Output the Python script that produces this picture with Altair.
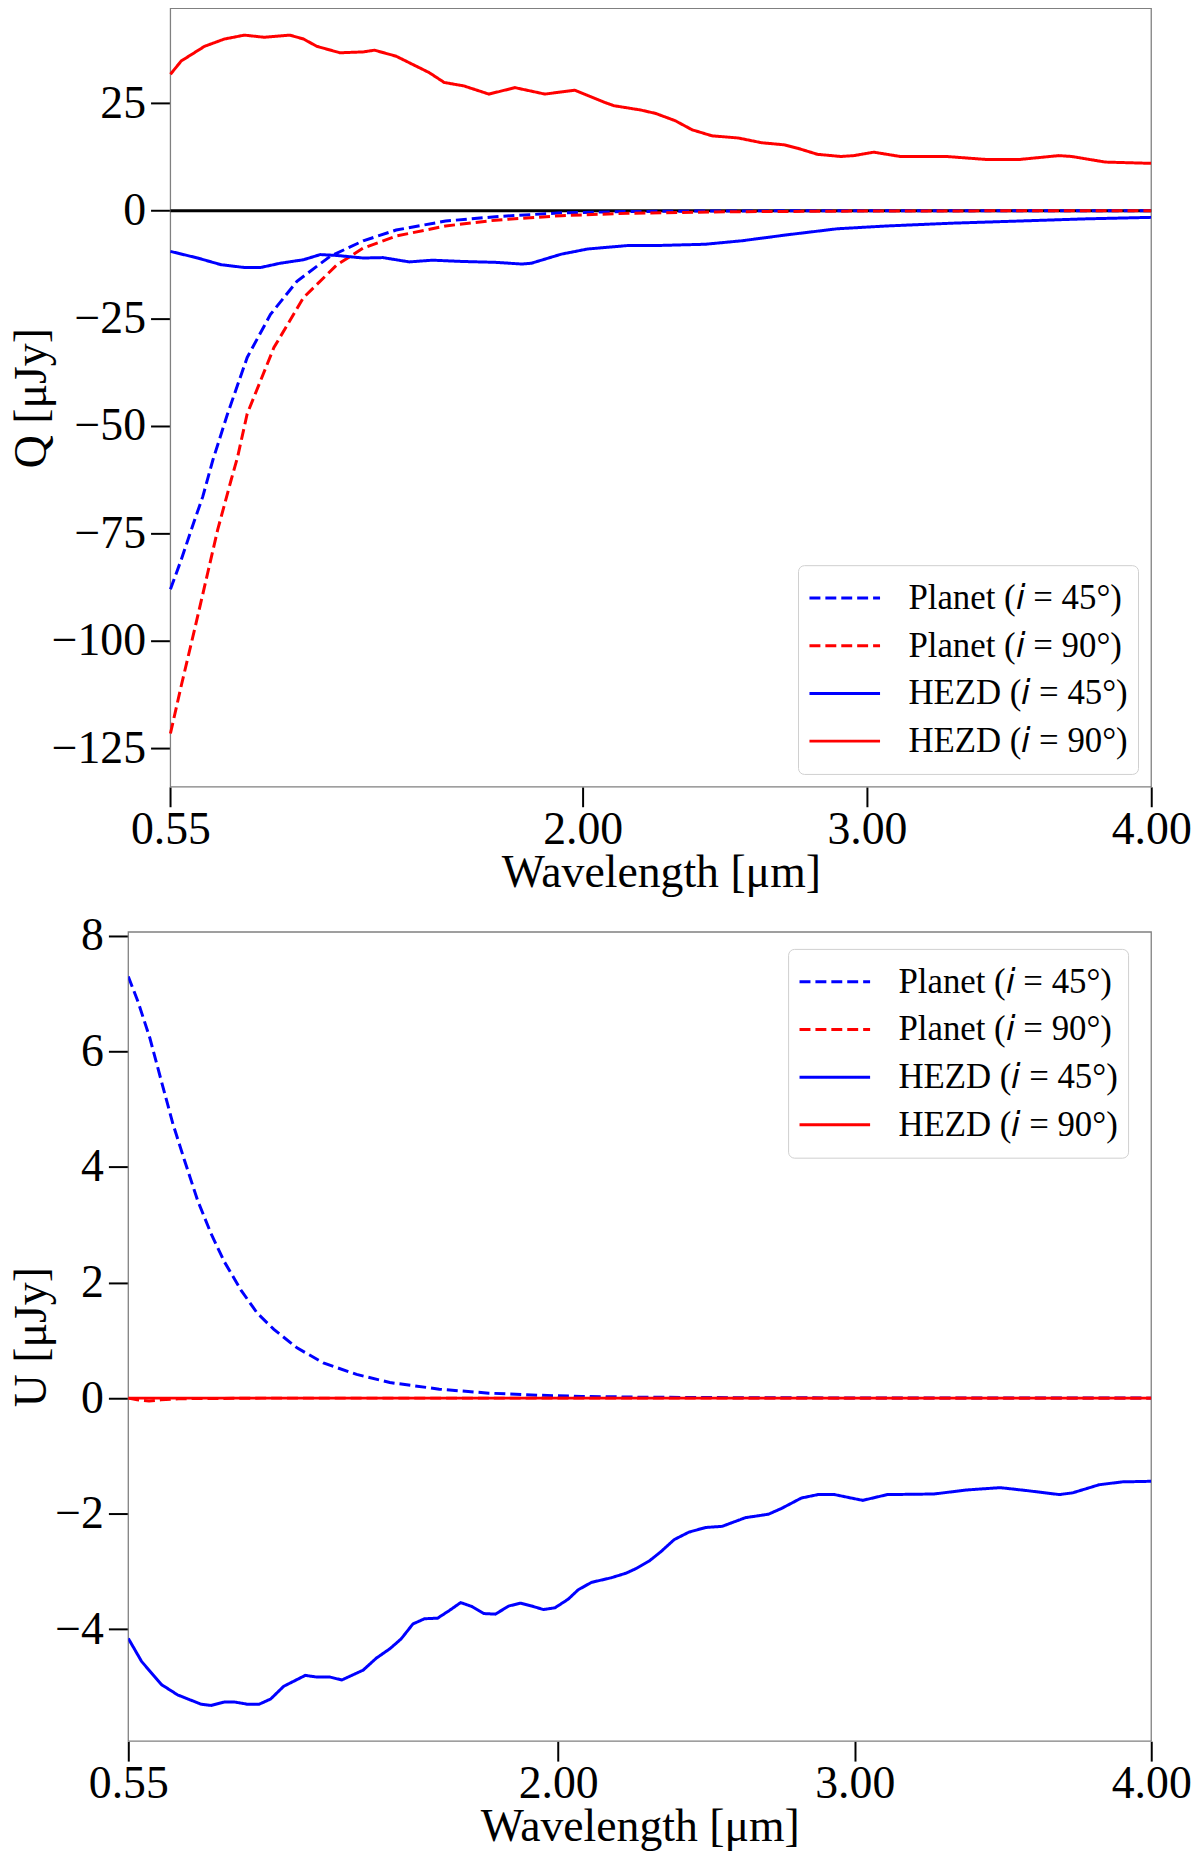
"""
Stokes Q and U of a planet and of a HEZD against wavelength, two panels.
"""

import altair as alt
import pandas as pd

# --- values ---------------------------------------------------------------

# Q panel, Planet (i = 45 deg), dashed blue
q_planet45_wl = [0.55, 0.588, 0.635, 0.664, 0.699, 0.751, 0.82, 0.902, 0.995, 1.112,
                 1.228, 1.344, 1.518, 1.693, 1.925, 2.16, 2.5, 3.0, 3.5, 4.0]
q_planet45 = [-88.0, -81.1, -71.9, -66.4, -58.0, -47.2, -34.1, -24.1, -16.4, -10.6,
              -7.0, -4.5, -2.4, -1.4, -0.5, -0.2, -0.05, -0.02, -0.01, 0.0]

# Q panel, Planet (i = 90 deg), dashed red
q_planet90_wl = [0.55, 0.588, 0.635, 0.681, 0.716, 0.763, 0.786, 0.82, 0.914, 1.018,
                 1.135, 1.228, 1.344, 1.518, 1.693, 1.925, 2.16, 2.5, 3.0, 3.5, 4.0]
q_planet90 = [-121.5, -110.4, -97.3, -84.2, -74.2, -62.7, -57.3, -47.2, -31.8, -20.2,
              -12.6, -8.7, -5.9, -3.55, -2.2, -1.15, -0.6, -0.25, -0.08, -0.03, -0.01]

# Q panel, HEZD (i = 45 deg), solid blue
q_hezd45_wl = [0.55, 0.646, 0.728, 0.81, 0.867, 0.937, 1.018, 1.077, 1.135, 1.228,
               1.297, 1.39, 1.472, 1.576, 1.693, 1.786, 1.82, 1.925, 2.018, 2.158,
               2.257, 2.431, 2.559, 2.72, 2.896, 3.07, 3.30, 3.536, 3.768, 4.0]
q_hezd45 = [-9.46, -11.0, -12.55, -13.2, -13.2, -12.2, -11.4, -10.2, -10.4, -11.0,
            -10.9, -11.9, -11.5, -11.8, -12.0, -12.4, -12.2, -10.1, -8.9, -8.1,
            -8.1, -7.8, -7.0, -5.6, -4.2, -3.55, -2.9, -2.4, -1.9, -1.55]

# Q panel, HEZD (i = 90 deg), solid red
q_hezd90_wl = [0.55, 0.588, 0.67, 0.74, 0.81, 0.88, 0.97, 1.018, 1.065, 1.146,
               1.228, 1.268, 1.344, 1.414, 1.46, 1.513, 1.582, 1.67, 1.762, 1.867,
               1.972, 2.076, 2.11, 2.204, 2.257, 2.326, 2.385, 2.455, 2.547, 2.629,
               2.71, 2.757, 2.826, 2.908, 2.954, 3.024, 3.117, 3.28, 3.42, 3.536,
               3.675, 3.72, 3.838, 4.0]
q_hezd90 = [31.7, 34.8, 38.2, 39.9, 40.8, 40.3, 40.8, 39.9, 38.2, 36.7,
            36.9, 37.3, 35.9, 33.6, 32.1, 29.8, 29.0, 27.1, 28.6, 27.1,
            28.0, 25.2, 24.4, 23.4, 22.6, 20.9, 18.8, 17.4, 16.9, 15.8,
            15.3, 14.5, 13.1, 12.6, 12.8, 13.6, 12.6, 12.6, 11.9, 11.9,
            12.8, 12.6, 11.3, 11.0]

# U panel, Planet (i = 45 deg), dashed blue
u_planet45_wl = [0.55, 0.583, 0.623, 0.662, 0.701, 0.74, 0.784, 0.829, 0.874, 0.93,
                 0.985, 1.041, 1.119, 1.208, 1.32, 1.432, 1.599, 1.766, 1.934, 2.078,
                 2.3, 2.6, 3.0, 3.5, 4.0]
u_planet45 = [7.30, 6.86, 6.23, 5.48, 4.74, 4.11, 3.42, 2.85, 2.36, 1.87,
              1.47, 1.19, 0.87, 0.61, 0.41, 0.27, 0.155, 0.086, 0.05, 0.03,
              0.015, 0.008, 0.003, 0.001, 0.0]

# U panel, Planet (i = 90 deg), dashed red (sits on zero)
u_planet90_wl = [0.55, 0.58, 0.62, 0.66, 0.72, 1.0, 2.0, 3.0, 4.0]
u_planet90 = [0.0, -0.03, -0.05, -0.03, -0.01, 0.0, 0.0, 0.0, 0.0]

# U panel, HEZD (i = 45 deg), solid blue
u_hezd45_wl = [0.55, 0.595, 0.662, 0.717, 0.796, 0.829, 0.874, 0.907, 0.952, 0.991,
               1.03, 1.074, 1.147, 1.186, 1.231, 1.27, 1.342, 1.387, 1.432, 1.47,
               1.51, 1.549, 1.593, 1.632, 1.671, 1.71, 1.749, 1.788, 1.833, 1.872,
               1.911, 1.95, 1.989, 2.034, 2.067, 2.112, 2.179, 2.229, 2.263, 2.307,
               2.346, 2.391, 2.441, 2.497, 2.553, 2.631, 2.709, 2.753, 2.82, 2.876,
               2.932, 2.988, 3.027, 3.11, 3.267, 3.378, 3.49, 3.579, 3.69, 3.735,
               3.824, 3.902, 4.0]
u_hezd45 = [-4.16, -4.56, -4.96, -5.14, -5.30, -5.32, -5.26, -5.26, -5.30, -5.30,
            -5.21, -4.99, -4.80, -4.83, -4.83, -4.88, -4.71, -4.50, -4.34, -4.17,
            -3.91, -3.82, -3.81, -3.68, -3.54, -3.61, -3.73, -3.74, -3.60, -3.55,
            -3.60, -3.66, -3.63, -3.48, -3.32, -3.19, -3.11, -3.03, -2.95, -2.82,
            -2.66, -2.45, -2.32, -2.24, -2.22, -2.07, -2.01, -1.91, -1.73, -1.67,
            -1.67, -1.73, -1.77, -1.67, -1.66, -1.59, -1.55, -1.60, -1.67, -1.64,
            -1.50, -1.45, -1.44]

# U panel, HEZD (i = 90 deg), solid red
u_hezd90_wl = [0.55, 1.0, 2.0, 3.0, 4.0]
u_hezd90 = [0.0, 0.0, 0.0, 0.0, 0.0]

wl_range = [0.55, 4.0]
q_range = [-133.9, 47.0]
u_range = [-5.94, 8.07]
x_ticks = [0.55, 2.0, 3.0, 4.0]
q_ticks = [-125, -100, -75, -50, -25, 0, 25]
u_ticks = [-4, -2, 0, 2, 4, 6, 8]

series = ["Planet (𝑖 = 45°)", "Planet (𝑖 = 90°)", "HEZD (𝑖 = 45°)", "HEZD (𝑖 = 90°)"]
colors = ["#0000ff", "#ff0000", "#0000ff", "#ff0000"]
dashes = [[11, 5], [11, 5], [1, 0], [1, 0]]

FONT = "Liberation Serif"
FRAME = "#808080"
WIDTH = 1029
# the Q panel's frame starts this far right of the U panel's (wider tick labels)
Q_INSET = 42.4


def to_frame(parts):
    """Stack (name, wavelengths, values) triples into one long table."""
    rows = []
    for name, wl, vals in parts:
        rows += [{"series": name, "wl": w, "value": v} for w, v in zip(wl, vals)]
    return pd.DataFrame(rows)


q_df = to_frame([
    (series[0], q_planet45_wl, q_planet45),
    (series[1], q_planet90_wl, q_planet90),
    (series[2], q_hezd45_wl, q_hezd45),
    (series[3], q_hezd90_wl, q_hezd90),
])
u_df = to_frame([
    (series[0], u_planet45_wl, u_planet45),
    (series[1], u_planet90_wl, u_planet90),
    (series[2], u_hezd45_wl, u_hezd45),
    (series[3], u_hezd90_wl, u_hezd90),
])


def panel(df, y_domain, y_ticks, y_title, height, inset, title_x,
          legend_x, legend_y, zero_line):
    legend = alt.Legend(
        title=None, orient="none", legendX=legend_x, legendY=legend_y,
        symbolType="stroke", symbolSize=5041, symbolStrokeWidth=3,
        labelFont=FONT, labelFontSize=35, labelColor="black", labelLimit=500,
        labelOffset=27, clipHeight=46, rowPadding=2, padding=10,
        strokeColor="#d0d0d0", fillColor="white", cornerRadius=6,
    )
    x_scale = alt.Scale(domain=wl_range, range=[inset, WIDTH], nice=False, zero=False)
    y_scale = alt.Scale(domain=y_domain, nice=False, zero=False)
    x = alt.X(
        "wl:Q", scale=x_scale,
        axis=alt.Axis(values=x_ticks, format=".2f", labelFlush=False,
                      title="Wavelength [μm]", titleX=(inset + WIDTH) / 2,
                      titleY=100, titleBaseline="alphabetic"),
    )
    y = alt.Y(
        "value:Q", scale=y_scale,
        axis=alt.Axis(values=y_ticks, format="d", title=y_title, titleAngle=270,
                      offset=-inset, titleX=title_x, titleY=height / 2,
                      titleBaseline="alphabetic"),
    )
    lines = alt.Chart(df).mark_line(strokeWidth=3, clip=True).encode(
        x=x,
        y=y,
        color=alt.Color("series:N", scale=alt.Scale(domain=series, range=colors), legend=legend),
        strokeDash=alt.StrokeDash("series:N", scale=alt.Scale(domain=series, range=dashes), legend=legend),
    )

    # plot frame drawn over the data range, so it can sit inside a wider view
    box = pd.DataFrame({"wl": [wl_range[0]], "wl2": [wl_range[1]],
                        "value": [y_domain[0]], "value2": [y_domain[1]]})
    frame = alt.Chart(box).mark_rect(fillOpacity=0, stroke=FRAME, strokeWidth=1.3).encode(
        x="wl:Q", x2="wl2", y="value:Q", y2="value2"
    )
    layers = [frame]
    if zero_line:
        zero = pd.DataFrame({"wl": [wl_range[0]], "wl2": [wl_range[1]], "value": [0.0]})
        layers.append(alt.Chart(zero).mark_rule(color="black", strokeWidth=3).encode(
            x="wl:Q", x2="wl2", y="value:Q"
        ))
    layers.append(lines)
    return alt.layer(*layers).properties(
        width=WIDTH, height=height,
        view=alt.ViewBackground(strokeWidth=0),
    )


top = panel(q_df, q_range, q_ticks, "Q [μJy]", 783, Q_INSET, -126,
            673.7, 560, True)
bottom = panel(u_df, u_range, u_ticks, "U [μJy]", 814, 0, -83.5,
               663.7, 17, False)

chart = alt.vconcat(top, bottom, spacing=18).resolve_legend(
    color="independent", strokeDash="independent"
).properties(
    padding={"left": 0, "top": -6, "right": 0, "bottom": 0},
    background="white",
).configure_axis(
    grid=False, domain=False,
    ticks=True, tickSize=20, tickWidth=2, tickColor="black",
    labelFont=FONT, labelFontSize=46, labelColor="black", labelPadding=1,
    labelOverlap=False, labelBound=False,
    titleFont=FONT, titleFontSize=46, titleFontWeight="normal", titleColor="black",
).configure_axisY(
    labelPadding=5
)

chart.save("out.html", embed_options={"renderer": "svg", "actions": False})
